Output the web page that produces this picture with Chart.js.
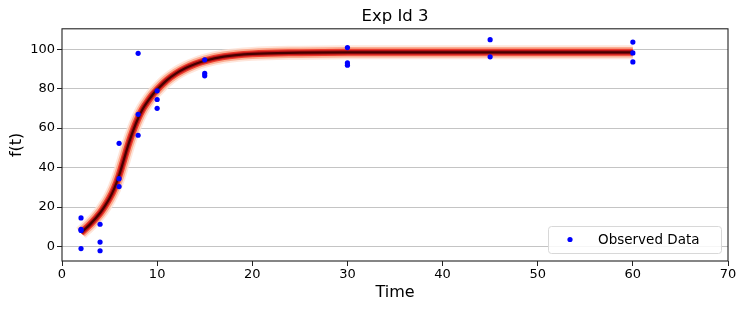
<!DOCTYPE html>
<html lang="en">
<head>
    <meta charset="UTF-8">
    <title>Exp Id 3</title>
    <script src="https://cdn.jsdelivr.net/npm/chart.js"></script>
    <style>
        body {
            margin: 0;
            background-color: #ffffff;
        }

        #fitChart {
            display: block;
        }
    </style>
</head>
<body>
<canvas id="fitChart" width="747" height="312"></canvas>

<script>
    const obsTime = [2, 2, 2, 2, 4, 4, 4, 6, 6, 6, 8, 8, 8, 10, 10, 10, 15, 15, 15, 30, 30, 30, 45, 45, 60, 60, 60];
    const obsValue = [14.5, 8.7, 8.2, -1.0, 11.3, 2.3, -2.1, 52.3, 34.4, 30.4, 97.9, 67.0, 56.4,
        78.9, 74.5, 70.0, 94.6, 87.7, 86.5, 100.8, 93.0, 91.9, 104.8, 96.1, 103.6, 98.1, 93.5];

    // fitted curve f(t)
    const fitTime = [2, 3, 4, 4.5, 5, 5.5, 6, 6.5, 7, 7.5, 8, 8.5, 9, 9.5, 10, 11, 12, 13, 14, 15, 17, 20, 25, 30, 40, 60];
    const fitValue = [7, 11.5, 17, 20.5, 24.5, 29.5, 36, 44, 52, 59, 65, 69.8, 73.5, 76.8, 79.5,
        84.2, 87.7, 90.4, 92.5, 94.1, 96.2, 97.6, 98.2, 98.4, 98.4, 98.4];

    const xTicks = [0, 10, 20, 30, 40, 50, 60, 70];
    const yTicks = [0, 20, 40, 60, 80, 100];

    const obsPoints = obsTime.map((t, i) => ({x: t, y: obsValue[i]}));
    const fitPoints = fitTime.map((t, i) => ({x: t, y: fitValue[i]}));

    // layered lines to mimic the shaded posterior band
    const bandLayers = [
        {width: 14, color: 'rgba(254,224,210,0.8)'},
        {width: 10.5, color: 'rgba(252,165,135,0.85)'},
        {width: 7, color: 'rgb(236,60,45)'},
        {width: 4.5, color: 'rgb(185,20,22)'},
        {width: 2.2, color: 'rgb(70,0,0)'}
    ];

    const bandDatasets = bandLayers.map((layer, i) => ({
        label: 'band' + i,
        data: fitPoints,
        borderColor: layer.color,
        borderWidth: layer.width,
        pointRadius: 0,
        fill: false,
        cubicInterpolationMode: 'monotone',
        order: bandLayers.length - i
    }));

    const frameAndLegend = {
        id: 'frameAndLegend',
        afterDraw(chart) {
            const ctx = chart.ctx;
            const a = chart.chartArea;
            ctx.save();
            ctx.strokeStyle = '#222';
            ctx.lineWidth = 1.1;
            ctx.strokeRect(a.left, a.top, a.right - a.left, a.bottom - a.top);

            // legend box, lower right
            const ds = chart.data.datasets[0];
            const bx = 548, by = 226, bw = 173, bh = 27;
            ctx.fillStyle = 'rgba(255,255,255,0.85)';
            ctx.strokeStyle = '#d8d8d8';
            ctx.lineWidth = 1;
            ctx.beginPath();
            ctx.roundRect(bx + 0.5, by + 0.5, bw, bh, 3);
            ctx.fill();
            ctx.stroke();
            ctx.fillStyle = ds.backgroundColor;
            ctx.beginPath();
            ctx.arc(570, by + bh / 2, 2.6, 0, Math.PI * 2);
            ctx.fill();
            ctx.fillStyle = '#000';
            ctx.font = '13.5px "DejaVu Sans"';
            ctx.textBaseline = 'middle';
            ctx.fillText(ds.label, 598, by + bh / 2 + 1);
            ctx.restore();
        }
    };

    const ctx = document.getElementById('fitChart').getContext('2d');
    const chart = new Chart(ctx, {
        type: 'line',
        data: {
            datasets: [{
                label: 'Observed Data',
                data: obsPoints,
                showLine: false,
                pointRadius: 2.6,
                pointBorderWidth: 0,
                backgroundColor: '#0000ff',
                borderColor: '#0000ff',
                order: 0
            }].concat(bandDatasets)
        },
        options: {
            responsive: false,
            animation: false,
            devicePixelRatio: 1,
            layout: {padding: {left: 0, right: 19, top: 0, bottom: 0}},
            plugins: {
                legend: {display: false},
                tooltip: {enabled: false},
                title: {
                    display: true,
                    fullSize: false,
                    text: 'Exp Id 3',
                    color: '#000',
                    font: {family: 'DejaVu Sans', size: 16.5, weight: 'normal'},
                    padding: {top: 7, bottom: 2}
                }
            },
            scales: {
                x: {
                    type: 'linear',
                    min: 0,
                    max: 70,
                    afterBuildTicks: axis => { axis.ticks = xTicks.map(v => ({value: v})); },
                    afterFit: axis => { axis.height = 51; },
                    grid: {display: true, drawOnChartArea: false, tickLength: 5, tickColor: '#222'},
                    border: {display: false},
                    ticks: {color: '#000', padding: 1, maxRotation: 0, font: {family: 'DejaVu Sans', size: 13}},
                    title: {
                        display: true,
                        text: 'Time',
                        color: '#000',
                        font: {family: 'DejaVu Sans', size: 16},
                        padding: {top: 0, bottom: 10}
                    }
                },
                y: {
                    type: 'linear',
                    min: -7.3,
                    max: 110.3,
                    afterBuildTicks: axis => { axis.ticks = yTicks.map(v => ({value: v})); },
                    afterFit: axis => { axis.width = 62; },
                    grid: {color: '#c4c4c4', lineWidth: 1, tickLength: 5, tickColor: '#222'},
                    border: {display: false},
                    ticks: {color: '#000', padding: 2, font: {family: 'DejaVu Sans', size: 13}},
                    title: {
                        display: true,
                        text: 'f(t)',
                        color: '#000',
                        font: {family: 'DejaVu Sans', size: 16},
                        padding: {top: 7, bottom: 0}
                    }
                }
            }
        },
        plugins: [frameAndLegend]
    });
</script>
</body>
</html>
